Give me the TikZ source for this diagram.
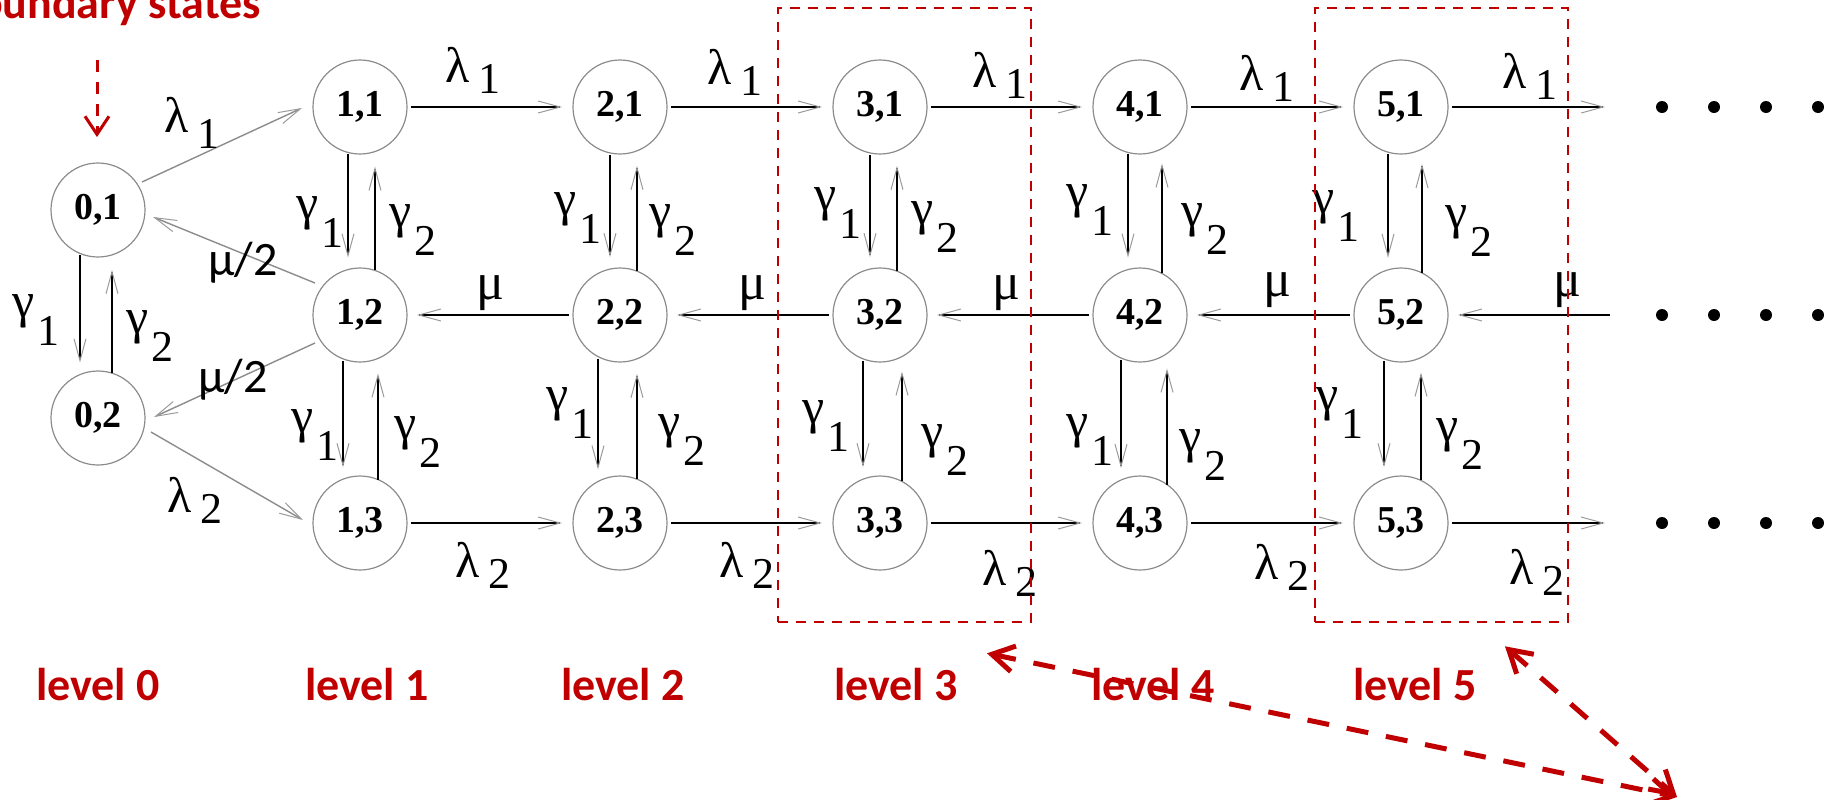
\documentclass[tikz,border=0pt]{standalone}
\usepackage{fontspec}
\setmainfont{Liberation Serif}
\newfontfamily\calfont{Carlito}
\usetikzlibrary{arrows.meta,calc}
\definecolor{dred}{HTML}{C00000}
\definecolor{ngray}{HTML}{8C8C8C}
\definecolor{tipgray}{HTML}{9A9A9A}
\newcommand\lamlab[2][5.5pt]{{\fontsize{25}{25}\selectfont λ}\hspace{4pt}\raisebox{-#1}{\fontsize{22}{22}\selectfont #2}}
\newcommand\gamlab[1]{{\fontsize{25}{25}\selectfont γ}\hspace{1pt}\raisebox{-14pt}{\fontsize{22}{22}\selectfont #1}}
\newcommand\vdn[3]{\draw[ln] ($(#1.center)+(#3,{sqrt(2209-(#3)*(#3))+2})$) -- ($(#2.center)+(#3,{-sqrt(2209-(#3)*(#3))-12})$);}
\newcommand\vup[3]{\draw[ln] ($(#2.center)+(#3,{-sqrt(2209-(#3)*(#3))})$) -- ($(#1.center)+(#3,{sqrt(2209-(#3)*(#3))+15})$);}
\tikzset{
  st/.style={circle, draw=ngray, line width=0.6pt, minimum size=47pt, inner sep=0pt, outer sep=0pt, font=\fontsize{19}{19}\selectfont\bfseries},
  ln/.style={line width=1.1pt, -{Straight Barb[length=11pt,width=6pt,line width=0.5pt,color=tipgray]}},
  dg/.style={ln, draw=ngray, line width=0.7pt},
  lab/.style={inner sep=0pt, outer sep=0pt},
  mulab/.style={lab, font=\fontsize{26}{26}\selectfont},
  mu2lab/.style={lab, font=\calfont\fontsize{24}{24}\selectfont},
  lvl/.style={font=\calfont\fontsize{23}{24}\selectfont\bfseries, text=dred, anchor=base, inner sep=0pt},
  lvlbox/.style={draw=dred, line width=1.3pt, dash pattern=on 5pt off 4pt, minimum width=126.5pt, minimum height=307pt, inner sep=0pt},
  bigarr/.style={draw=dred, line width=2.5pt, dash pattern=on 11pt off 9pt, {Straight Barb[length=11pt,width=13pt]}-{Straight Barb[length=11pt,width=13pt]}}
}
\begin{document}
\begin{tikzpicture}[x=0.5pt,y=-0.5pt]
\useasboundingbox (0,0) rectangle (1835,799);
% states
\node[st] (n01) at (98,210) {0,1};
\node[st] (n02) at (98,418) {0,2};
\foreach \i/\x in {1/360,2/620,3/880,4/1140,5/1401}{
  \node[st] (n\i1) at (\x,107) {\i,1};
  \node[st] (n\i2) at (\x,315) {\i,2};
  \node[st] (n\i3) at (\x,523) {\i,3};
}
% horizontal transitions
\foreach \i/\j in {1/2,2/3,3/4,4/5}{
  \draw[ln] ($(n\i1.east)+(4,0)$) -- ($(n\j1.west)+(-11,0)$);
  \draw[ln] ($(n\j2.west)+(-4,0)$) -- ($(n\i2.east)+(10,0)$);
  \draw[ln] ($(n\i3.east)+(4,0)$) -- ($(n\j3.west)+(-11,0)$);
}
\coordinate (e1) at (1605,107);
\coordinate (e2) at (1610,315);
\coordinate (e3) at (1605,523);
\draw[ln] ($(n51.east)+(4,0)$) -- (e1);
\draw[ln] (e2) -- ($(n52.east)+(10,0)$);
\draw[ln] ($(n53.east)+(4,0)$) -- (e3);
% vertical transitions
\vdn{n01}{n02}{-18} \vup{n01}{n02}{14}
\vdn{n11}{n12}{-12} \vup{n11}{n12}{15} \vdn{n12}{n13}{-17} \vup{n12}{n13}{18}
\vdn{n21}{n22}{-10} \vup{n21}{n22}{17} \vdn{n22}{n23}{-22} \vup{n22}{n23}{17}
\vdn{n31}{n32}{-10} \vup{n31}{n32}{17} \vdn{n32}{n33}{-17} \vup{n32}{n33}{22}
\vdn{n41}{n42}{-12} \vup{n41}{n42}{22} \vdn{n42}{n43}{-19} \vup{n42}{n43}{27}
\vdn{n51}{n52}{-13} \vup{n51}{n52}{21} \vdn{n52}{n53}{-17} \vup{n52}{n53}{20}
% boundary diagonals
\draw[dg] ($(n01.center)+(44,-28)$) -- ($(n11.center)+(-58,1)$);
\draw[dg] ($(n12.center)+(-45,-32)$) -- ($(n01.center)+(55,7)$);
\draw[dg] ($(n12.center)+(-45,28)$) -- ($(n02.center)+(56,-1)$);
\draw[dg] ($(n02.center)+(53,14)$) -- ($(n13.center)+(-57,-3)$);
% dots
\foreach \y in {107,315,523}
  \foreach \x in {1662,1714,1766,1818}
    \fill (\x,\y) circle (3pt);
% lambda labels
\node[lab] (la0) at (192,123) {\lamlab[8pt]{1}};
\node[lab] (la1) at (473,70) {\lamlab{1}};
\node[lab] (la2) at (735,72) {\lamlab{1}};
\node[lab] (la3) at (1000,75) {\lamlab{1}};
\node[lab] (la4) at (1267,78) {\lamlab{1}};
\node[lab] (la5) at (1530,76) {\lamlab{1}};
\node[lab] (lb0) at (195,500) {\lamlab{2}};
\node[lab] (lb1) at (483,565) {\lamlab{2}};
\node[lab] (lb2) at (747,565) {\lamlab{2}};
\node[lab] (lb3) at (1010,573) {\lamlab{2}};
\node[lab] (lb4) at (1282,567) {\lamlab{2}};
\node[lab] (lb5) at (1537,572) {\lamlab{2}};
% mu labels
\node[mulab] (mu1) at (490,293) {μ};
\node[mulab] (mu2) at (752,293) {μ};
\node[mulab] (mu3) at (1006,293) {μ};
\node[mulab] (mu4) at (1277,290) {μ};
\node[mulab] (mu5) at (1567,290) {μ};
\node[mu2lab] (mh1) at (243,263) {μ/2};
\node[mu2lab] (mh2) at (233,380) {μ/2};
% gamma labels
\node[lab] (ga0) at (36,320) {\gamlab{1}};
\node[lab] (gb0) at (150,336) {\gamlab{2}};
\node[lab] (ga1) at (320,222) {\gamlab{1}};
\node[lab] (gb1) at (413,230) {\gamlab{2}};
\node[lab] (ga2) at (578,218) {\gamlab{1}};
\node[lab] (gb2) at (673,230) {\gamlab{2}};
\node[lab] (ga3) at (838,213) {\gamlab{1}};
\node[lab] (gb3) at (935,227) {\gamlab{2}};
\node[lab] (ga4) at (1090,210) {\gamlab{1}};
\node[lab] (gb4) at (1205,229) {\gamlab{2}};
\node[lab] (ga5) at (1336,216) {\gamlab{1}};
\node[lab] (gb5) at (1469,231) {\gamlab{2}};
\node[lab] (gc1) at (315,435) {\gamlab{1}};
\node[lab] (gd1) at (418,442) {\gamlab{2}};
\node[lab] (gc2) at (570,413) {\gamlab{1}};
\node[lab] (gd2) at (682,440) {\gamlab{2}};
\node[lab] (gc3) at (826,426) {\gamlab{1}};
\node[lab] (gd3) at (945,450) {\gamlab{2}};
\node[lab] (gc4) at (1090,440) {\gamlab{1}};
\node[lab] (gd4) at (1203,455) {\gamlab{2}};
\node[lab] (gc5) at (1340,413) {\gamlab{1}};
\node[lab] (gd5) at (1460,444) {\gamlab{2}};
% level labels
\node[lvl] (lv0) at (98,700) {level 0};
\node[lvl] (lv1) at (367,700) {level 1};
\node[lvl] (lv2) at (623,700) {level 2};
\node[lvl] (lv3) at (896,700) {level 3};
\node[lvl] (lv4) at (1153,700) {level 4};
\node[lvl] (lv5) at (1415,700) {level 5};
% boundary states
\node[lvl, anchor=base west] (bs) at (-47,18) {boundary states};
\coordinate (bsa) at (97,60);
\draw[dred, line width=1.5pt, dash pattern=on 6pt off 5pt, -{Straight Barb[length=9pt,width=12pt]}] (bsa) -- ($(n01.north)+(-1,-26)$);
% level boxes
\node[lvlbox] (box3) at (904.5,315) {};
\node[lvlbox] (box5) at (1441.5,315) {};
\coordinate (tail) at (1677,797);
\draw[bigarr] ($(box3.south)+(82.5,30)$) -- (tail);
\draw[bigarr] ($(box5.south)+(63.5,23)$) -- (tail);
\end{tikzpicture}
\end{document}
